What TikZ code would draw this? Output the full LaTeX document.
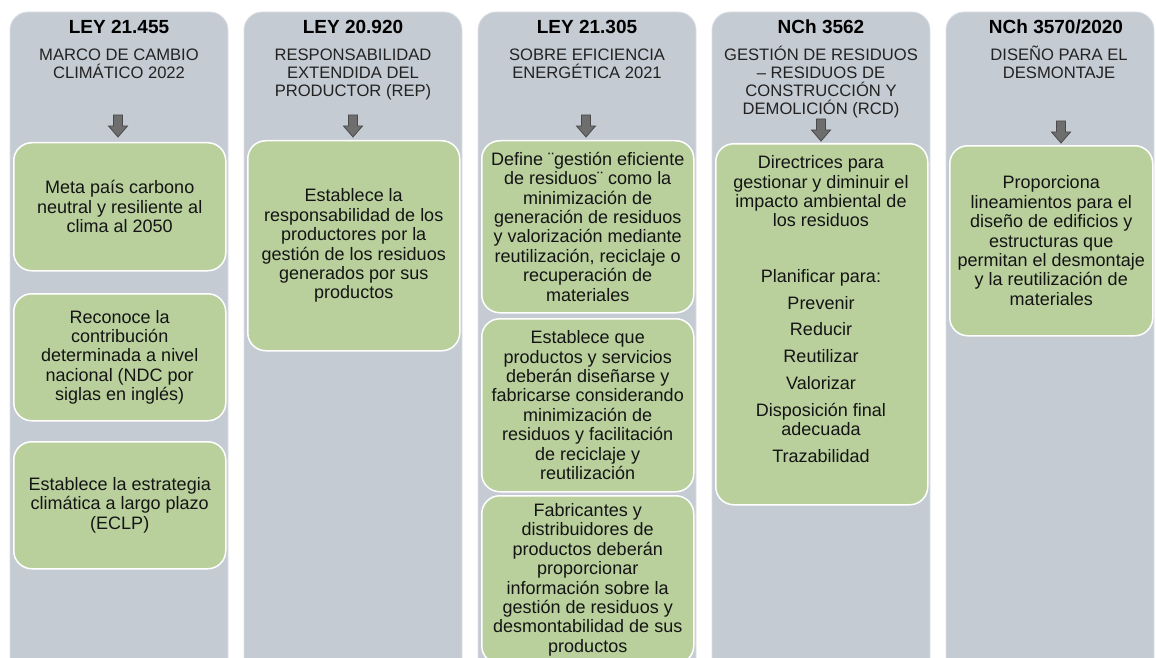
\documentclass[tikz,border=0pt]{standalone}
\usepackage{fontspec}
\setmainfont{Liberation Sans}
\definecolor{colgray}{HTML}{C5CBD3}
\definecolor{boxgreen}{HTML}{B9D09D}
\definecolor{arrowfill}{HTML}{6E6E6E}
\definecolor{arrowline}{HTML}{4A4A4A}
\definecolor{subcol}{HTML}{222222}
\definecolor{txtcol}{HTML}{141414}
\begin{document}
\begin{tikzpicture}[x=1pt,y=-1pt,
  column/.style={fill=colgray, draw=colgray!60!white, line width=0.8pt, rounded corners=18pt},
  gbox/.style={fill=boxgreen, draw=white, line width=1.5pt, rounded corners=18pt,
    anchor=north west, inner sep=0pt, align=center, text=txtcol,
    font=\fontsize{18}{19.4}\selectfont},
  gtext/.style={inner sep=0pt, align=center, text=txtcol, font=\fontsize{18}{19.4}\selectfont},
  title/.style={anchor=base, inner sep=0pt, font=\fontsize{19}{22}\selectfont\bfseries},
  subtitle/.style={anchor=north, inner sep=0pt, align=center, text=subcol,
    font=\fontsize{16.6}{18}\selectfont},
  blockarrow/.pic={\filldraw[fill=arrowfill, draw=arrowline, line width=0.8pt, line join=miter]
    (-4.5,0) -- (4.5,0) -- (4.5,11) -- (9.5,11) -- (0,22) -- (-9.5,11) -- (-4.5,11) -- cycle;}
]
\clip (0,0) rectangle (1156,658);
\fill[white] (0,0) rectangle (1156,658);

% columns
\draw[column] (10,12) rectangle (228,680);
\draw[column] (244,12) rectangle (462,680);
\draw[column] (478,12) rectangle (696,680);
\draw[column] (712,12) rectangle (930,680);
\draw[column] (946,12) rectangle (1154,680);

% titles
\node[title] (t1) at (119,34) {LEY 21.455};
\node[title] (t2) at (353,34) {LEY 20.920};
\node[title] (t3) at (587,34) {LEY 21.305};
\node[title] (t4) at (821,34) {NCh 3562};
\node[title] (t5) at (1056,34) {NCh 3570/2020};

% subtitles
\node[subtitle] (s1) at (119,46) {\vphantom{Ó}MARCO DE CAMBIO\\CLIMÁTICO 2022};
\node[subtitle] (s2) at (353,46) {\vphantom{Ó}RESPONSABILIDAD\\EXTENDIDA DEL\\PRODUCTOR (REP)};
\node[subtitle] (s3) at (587,46) {\vphantom{Ó}SOBRE EFICIENCIA\\ENERGÉTICA 2021};
\node[subtitle] (s4) at (821,46) {\vphantom{Ó}GESTIÓN DE RESIDUOS\\– RESIDUOS DE\\CONSTRUCCIÓN Y\\DEMOLICIÓN (RCD)};
\node[subtitle] (s5) at (1059,46) {\vphantom{Ó}DISEÑO PARA EL\\DESMONTAJE};

% arrows
\pic at (118,115) {blockarrow};
\pic at (353,115) {blockarrow};
\pic at (586,115) {blockarrow};
\pic at (821,119) {blockarrow};
\pic at (1061,121) {blockarrow};

% column 1
\node[gbox, minimum width=212pt, minimum height=128pt] (a1) at (13,142)
  {Meta país carbono\\neutral y resiliente al\\clima al 2050};
\node[gbox, minimum width=212pt, minimum height=127pt] (a2) at (13,293)
  {Reconoce la\\contribución\\determinada a nivel\\nacional (NDC por\\siglas en inglés)};
\node[gbox, minimum width=212pt, minimum height=127pt] (a3) at (13,441)
  {Establece la estrategia\\climática a largo plazo\\(ECLP)};

% column 2
\node[gbox, minimum width=212pt, minimum height=210pt] (b1) at (247,140)
  {Establece la\\responsabilidad de los\\productores por la\\gestión de los residuos\\generados por sus\\productos};

% column 3
\node[gbox, minimum width=212pt, minimum height=172pt] (c1) at (481,140)
  {Define ¨gestión eficiente\\de residuos¨ como la\\minimización de\\generación de residuos\\y valorización mediante\\reutilización, reciclaje o\\recuperación de\\materiales};
\node[gbox, minimum width=212pt, minimum height=173pt] (c2) at (481,318)
  {Establece que\\productos y servicios\\deberán diseñarse y\\fabricarse considerando\\minimización de\\residuos y facilitación\\de reciclaje y\\reutilización};
\node[gbox, minimum width=212pt, minimum height=168pt] (c3) at (481,495)
  {Fabricantes y\\distribuidores de\\productos deberán\\proporcionar\\información sobre la\\gestión de residuos y\\desmontabilidad de sus\\productos};

% column 4
\node[gbox, minimum width=212pt, minimum height=361pt] (d1) at (715,143) {};
\node[gtext] (d1t) at (821,309)
  {Directrices para\\gestionar y diminuir el\\impacto ambiental de\\los residuos\\[36.3pt]Planificar para:\\[7.3pt]Prevenir\\[7.3pt]Reducir\\[7.3pt]Reutilizar\\[7.3pt]Valorizar\\[7.3pt]Disposición final\\adecuada\\[7.3pt]Trazabilidad};

% column 5
\node[gbox, minimum width=203pt, minimum height=190pt] (e1) at (949,145)
  {Proporciona\\lineamientos para el\\diseño de edificios y\\estructuras que\\permitan el desmontaje\\y la reutilización de\\materiales};
\end{tikzpicture}
\end{document}
